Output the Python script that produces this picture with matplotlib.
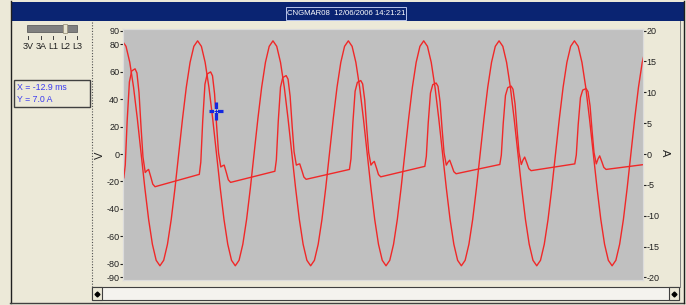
import matplotlib.pyplot as plt
import numpy as np
from matplotlib.patches import Rectangle

plt.rcParams['font.family'] = ['Liberation Sans Narrow', 'Liberation Sans', 'DejaVu Sans']

W, H = 686, 305

# voltage trace (V), one sample every ms from -37.8 ms
volt_t = np.arange(-37.8, 101.5, 1.0)
volt_v = [
    82.5, 78.5, 66.8, 48.7, 25.8, 0.5, -24.8, -47.7, -65.8, -77.5, -81.5, -77.5, -65.8, -47.7, -24.8, 0.5, 25.8, 48.7, 66.8, 78.5,
    82.5, 78.5, 66.8, 48.7, 25.8, 0.5, -24.8, -47.7, -65.8, -77.5, -81.5, -77.5, -65.8, -47.7, -24.8, 0.5, 25.8, 48.7, 66.8, 78.5,
    82.5, 78.5, 66.8, 48.7, 25.8, 0.5, -24.8, -47.7, -65.8, -77.5, -81.5, -77.5, -65.8, -47.7, -24.8, 0.5, 25.8, 48.7, 66.8, 78.5,
    82.5, 78.5, 66.8, 48.7, 25.8, 0.5, -24.8, -47.7, -65.8, -77.5, -81.5, -77.5, -65.8, -47.7, -24.8, 0.5, 25.8, 48.7, 66.8, 78.5,
    82.5, 78.5, 66.8, 48.7, 25.8, 0.5, -24.8, -47.7, -65.8, -77.5, -81.5, -77.5, -65.8, -47.7, -24.8, 0.5, 25.8, 48.7, 66.8, 78.5,
    82.5, 78.5, 66.8, 48.7, 25.8, 0.5, -24.8, -47.7, -65.8, -77.5, -81.5, -77.5, -65.8, -47.7, -24.8, 0.5, 25.8, 48.7, 66.8, 78.5,
    82.5, 78.5, 66.8, 48.7, 25.8, 0.5, -24.8, -47.7, -65.8, -77.5, -81.5, -77.5, -65.8, -47.7, -24.8, 0.5, 25.8, 48.7, 66.8, 78.5,
]

# current trace (A), points
cur_t = [
    -38.0,
    -37.4, -37.0, -36.5, -35.9, -35.3, -34.4, -33.9, -33.35, -32.8, -32.3, -31.7, -31.25, -30.8, -30.2, -29.7, -29.1,
    -17.35, -16.95, -16.45, -15.85, -15.25, -14.35, -13.85, -13.3, -12.75, -12.25, -11.65, -11.2, -10.75, -10.15, -9.65, -9.05,
    2.7, 3.1, 3.6, 4.2, 4.8, 5.7, 6.2, 6.75, 7.3, 7.8, 8.4, 8.85, 9.3, 9.9, 10.4, 11.0,
    22.5, 22.9, 23.4, 24.0, 24.6, 25.5, 26.0, 26.55, 27.1, 27.6, 28.2, 28.65, 29.1, 29.7, 30.2, 30.8,
    42.5, 42.9, 43.4, 44.0, 44.6, 45.5, 46.0, 46.55, 47.1, 47.6, 48.2, 48.65, 49.1, 49.7, 50.2, 50.8,
    62.4, 62.8, 63.3, 63.9, 64.5, 65.4, 65.9, 66.45, 67.0, 67.5, 68.1, 68.55, 69.0, 69.6, 70.1, 70.7,
    82.3, 82.7, 83.2, 83.8, 84.4, 85.3, 85.8, 86.35, 86.9, 87.4, 88.0, 88.45, 88.9, 89.5, 90.0, 90.6,
    101.0,
]
cur_a = [
    -3.95,
    -3.9, -1.78, 5.3, 11.68, 13.45, 13.8, 13.13, 9.94, 4.22, -0.48, -3.0, -2.7, -2.5, -3.76, -4.88, -5.3,
    -3.3, -1.31, 5.33, 11.31, 12.97, 13.3, 12.68, 9.76, 4.52, 0.21, -2.1, -1.92, -1.8, -3.06, -4.18, -4.6,
    -2.8, -0.94, 5.26, 10.84, 12.39, 12.7, 12.12, 9.36, 4.43, 0.37, -1.8, -1.68, -1.6, -2.73, -3.73, -4.1,
    -2.5, -0.77, 4.99, 10.17, 11.61, 11.9, 11.35, 8.75, 4.09, 0.25, -1.8, -1.44, -1.2, -2.33, -3.33, -3.7,
    -2.0, -0.38, 5.02, 9.88, 11.23, 11.5, 10.97, 8.44, 3.92, 0.19, -1.8, -1.32, -1.0, -1.99, -2.87, -3.2,
    -1.7, -0.18, 4.9, 9.48, 10.75, 11.0, 10.49, 8.08, 3.76, 0.2, -1.7, -0.98, -0.5, -1.49, -2.37, -2.7,
    -1.6, -0.14, 4.74, 9.14, 10.36, 10.6, 10.11, 7.79, 3.65, 0.23, -1.6, -0.82, -0.3, -1.29, -2.17, -2.5,
    -1.68,
]

left_ticks = [90, 80, 60, 40, 20, 0, -20, -40, -60, -80, -90]
right_ticks = [20, 15, 10, 5, 0, -5, -10, -15, -20]
slider_labels = ['3V', '3A', 'L1', 'L2', 'L3']
title = 'CNGMAR08  12/06/2006 14:21:21'
cursor_x, cursor_y = -12.9, 7.0

beige = '#ECE9D8'
red = '#F02828'
fig = plt.figure(figsize=(W / 100, H / 100), dpi=100, facecolor=beige)

# window furniture, drawn in pixel coords
bg = fig.add_axes([0, 0, 1, 1])
bg.set_xlim(0, W)
bg.set_ylim(H, 0)
bg.axis('off')

bg.add_patch(Rectangle((11, 2), 673, 19, fc='#0A2472', ec='none'))
bg.add_patch(Rectangle((286, 7), 120, 13, fc='none', ec='#B8C4EC', lw=0.7))
bg.text(346, 13.5, title, color='white', fontsize=5.6, ha='center', va='center')

bg.plot([10.5, 10.5], [1, 303], color='#202020', lw=1)
bg.plot([10, 684], [302.5, 302.5], color='#404040', lw=1)
bg.plot([684, 684], [1, 303], color='#202020', lw=1)
bg.plot([680, 680], [21, 287], color='#808080', lw=0.7)
bg.plot([92, 92], [22, 287], color='#505050', lw=0.8, ls=(0, (1, 1.5)))

# scrollbar
bg.add_patch(Rectangle((92, 287), 587, 13, fc='#F4F3EE', ec='#404040', lw=0.8))
bg.add_patch(Rectangle((92, 287), 10, 13, fc=beige, ec='#404040', lw=0.8))
bg.add_patch(Rectangle((669, 287), 10, 13, fc=beige, ec='#404040', lw=0.8))
bg.plot(97, 293.5, marker='D', ms=2.5, color='black')
bg.plot(674, 293.5, marker='D', ms=2.5, color='black')

# channel slider
bg.add_patch(Rectangle((27, 25), 50, 7, fc='#808080', ec='#606060', lw=0.6))
bg.add_patch(Rectangle((63, 24), 4, 9, fc='#E8E4D0', ec='#A09880', lw=0.6))
for sx, lab in zip([28, 41, 53, 65, 77], slider_labels):
    bg.plot([sx, sx], [36, 39], color='#404040', lw=0.7)
    bg.text(sx, 46.5, lab, fontsize=6.5, ha='center', va='center', color='#202020')

# cursor read-out
bg.add_patch(Rectangle((14, 80), 76, 27, fc='none', ec='#404040', lw=1))
bg.text(17, 88, 'X = %.1f ms' % cursor_x, fontsize=6.3, color='#3C3CF0', va='center')
bg.text(17, 100, 'Y = %.1f A' % cursor_y, fontsize=6.3, color='#3C3CF0', va='center')

bg.text(100, 155, 'V', rotation=90, fontsize=8, ha='center', va='center', color='#202020')
bg.text(665, 153, 'A', rotation=-90, fontsize=8, ha='center', va='center', color='#202020')

# plot area
ax = fig.add_axes([123 / W, (H - 279.5) / H, 520 / W, 251 / H], facecolor='#C0C0C0')
ax.plot(volt_t, volt_v, color=red, lw=1.0)
ax.set_xlim(-37.6, 100.4)
ax.set_ylim(-91.5, 91.5)
ax.set_xticks([])
ax.set_yticks(left_ticks)
ax.set_yticklabels([str(v) for v in left_ticks])
ax.tick_params(axis='y', direction='out', length=2.2, width=0.8, labelsize=6.5, pad=0.5, colors='#202020')

ax2 = ax.twinx()
ax2.plot(cur_t, cur_a, color=red, lw=1.0)
ax2.set_ylim(-91.5 / 4.5, 91.5 / 4.5)
ax2.set_yticks(right_ticks)
ax2.set_yticklabels([str(v) for v in right_ticks])
ax2.tick_params(axis='y', direction='out', length=2.2, width=0.8, labelsize=6.5, pad=0.5, colors='#202020')

# blue crosshair cursor
ax2.plot(cursor_x, cursor_y, marker='_', ms=10, mew=2.3, color='#1428E0')
ax2.plot(cursor_x, cursor_y, marker='|', ms=13.5, mew=2.3, color='#1428E0')
ax2.plot(cursor_x, cursor_y, marker='s', ms=2.5, mew=0, color='#C0C0C0')
ax2.plot(cursor_x, cursor_y, marker='+', ms=3, mew=0.7, color='#1428E0')

for a in (ax, ax2):
    for sp in a.spines.values():
        sp.set_color('#DCDCDC')
        sp.set_linewidth(0.8)

fig.savefig('out.png', dpi=100, facecolor=beige)
